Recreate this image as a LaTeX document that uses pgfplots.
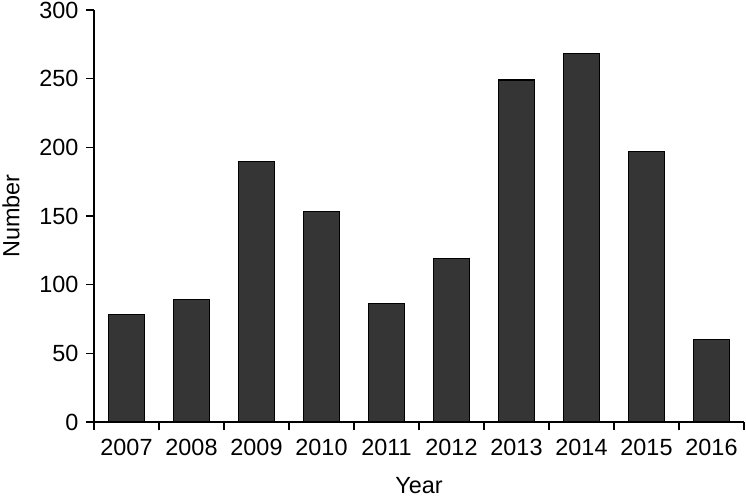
\documentclass[border=0pt]{standalone}
\usepackage{pgfplots}
\pgfplotsset{compat=1.18}
\usepackage{fontspec}
\setmainfont{Liberation Sans}
\definecolor{bargray}{RGB}{53,53,53}

\begin{document}
\begin{tikzpicture}
\begin{axis}[
    scale only axis,
    width=650bp, height=412bp,
    ymin=0, ymax=300,
    xmin=-0.5, xmax=9.5,
    ytick={0,50,...,300},
    xtick={0,...,9},
    xticklabels={2007,2008,2009,2010,2011,2012,2013,2014,2015,2016},
    minor xtick={-0.5,0.5,...,9.5},
    major x tick style={draw=none},
    tick align=outside,
    major tick length=8bp,
    minor tick length=8bp,
    tick style={black, line width=1.2pt},
    axis x line*=bottom,
    axis y line*=left,
    axis line style={line width=1.2pt},
    ticklabel style={font=\fontsize{23.5}{28}\selectfont},
    xticklabel style={yshift=-6bp},
    yticklabel style={xshift=-4bp},
    /pgf/number format/assume math mode=true,
    xlabel={Year},
    ylabel={Number},
    label style={font=\fontsize{23.5}{28}\selectfont},
    xlabel style={at={(axis description cs:0.5,0)}, anchor=center, yshift=-64bp},
    ylabel style={at={(axis description cs:0,0.5)}, anchor=center, yshift=83bp},
    clip=false,
]
\addplot[ybar, bar width=36bp, fill=bargray, draw=black, line width=1.1pt]
  coordinates {(0,78) (1,89) (2,190) (3,153) (4,86) (5,119) (6,249) (7,268) (8,197) (9,60)};
\end{axis}
\pgfresetboundingbox
\path[use as bounding box] (current axis.south west) ++(-94bp,-77bp) rectangle ++(746bp,499bp);
\end{tikzpicture}
\end{document}
